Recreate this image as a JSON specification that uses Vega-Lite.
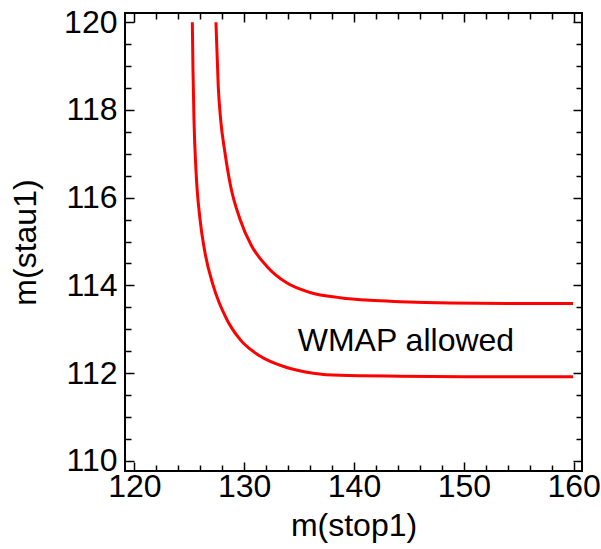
{
  "$schema": "https://vega.github.io/schema/vega-lite/v6.json",
  "width": 457,
  "height": 458,
  "autosize": {"type": "none"},
  "padding": {"left": 125, "top": 13, "right": 19, "bottom": 78},
  "background": "white",
  "config": {
    "view": {"stroke": "black", "strokeWidth": 2},
    "axis": {
      "domain": false, "grid": false,
      "labelFont": "Liberation Sans", "titleFont": "Liberation Sans",
      "labelFontSize": 32, "titleFontSize": 32,
      "labelColor": "black", "titleColor": "black",
      "tickColor": "black", "tickWidth": 1.5, "titleFontWeight": "normal"
    }
  },
  "datasets": {
    "curves": [
      {"curve": "lower", "stop": 125.28, "stau": 120.0},
      {"curve": "lower", "stop": 125.34, "stau": 118.92},
      {"curve": "lower", "stop": 125.43, "stau": 117.78},
      {"curve": "lower", "stop": 125.61, "stau": 116.64},
      {"curve": "lower", "stop": 125.98, "stau": 115.51},
      {"curve": "lower", "stop": 126.43, "stau": 114.75},
      {"curve": "lower", "stop": 127.19, "stau": 113.99},
      {"curve": "lower", "stop": 128.41, "stau": 113.23},
      {"curve": "lower", "stop": 129.62, "stau": 112.77},
      {"curve": "lower", "stop": 131.44, "stau": 112.39},
      {"curve": "lower", "stop": 133.87, "stau": 112.13},
      {"curve": "lower", "stop": 136.29, "stau": 112.0},
      {"curve": "lower", "stop": 138.72, "stau": 111.95},
      {"curve": "lower", "stop": 144.18, "stau": 111.93},
      {"curve": "lower", "stop": 150.0, "stau": 111.92},
      {"curve": "lower", "stop": 155.0, "stau": 111.92},
      {"curve": "lower", "stop": 159.95, "stau": 111.92},
      {"curve": "upper", "stop": 127.43, "stau": 120.0},
      {"curve": "upper", "stop": 127.64, "stau": 118.54},
      {"curve": "upper", "stop": 127.86, "stau": 117.78},
      {"curve": "upper", "stop": 128.25, "stau": 117.03},
      {"curve": "upper", "stop": 128.77, "stau": 116.26},
      {"curve": "upper", "stop": 129.62, "stau": 115.51},
      {"curve": "upper", "stop": 130.68, "stau": 114.9},
      {"curve": "upper", "stop": 132.05, "stau": 114.44},
      {"curve": "upper", "stop": 133.87, "stau": 114.06},
      {"curve": "upper", "stop": 135.99, "stau": 113.84},
      {"curve": "upper", "stop": 138.72, "stau": 113.72},
      {"curve": "upper", "stop": 141.45, "stau": 113.66},
      {"curve": "upper", "stop": 144.18, "stau": 113.63},
      {"curve": "upper", "stop": 148.73, "stau": 113.6},
      {"curve": "upper", "stop": 154.0, "stau": 113.59},
      {"curve": "upper", "stop": 159.95, "stau": 113.59}
    ],
    "note": [
      {"stop": 134.88, "stau": 112.51, "text": "WMAP allowed"}
    ]
  },
  "layer": [
    {
      "data": {"name": "curves"},
      "mark": {"type": "line", "color": "#ff0000", "strokeWidth": 3, "interpolate": "monotone"},
      "encoding": {
        "x": {"field": "stop", "type": "quantitative",
              "scale": {"domain": [119.15, 160.76], "nice": false, "zero": false},
              "axis": {"orient": "bottom", "values": [120, 130, 140, 150, 160], "format": "d",
                       "tickSize": -9, "labelPadding": 9, "title": "m(stop1)", "titlePadding": 8}},
        "y": {"field": "stau", "type": "quantitative",
              "scale": {"domain": [109.77, 120.21], "nice": false, "zero": false},
              "axis": {"orient": "left", "values": [110, 112, 114, 116, 118, 120], "format": "d",
                       "tickSize": -9, "labelPadding": 17, "title": "m(stau1)", "titlePadding": 21}},
        "detail": {"field": "curve"}
      }
    },
    {
      "data": {"name": "curves"},
      "mark": {"type": "line", "opacity": 0},
      "encoding": {
        "x": {"field": "stop", "type": "quantitative",
              "scale": {"domain": [119.15, 160.76], "nice": false, "zero": false},
              "axis": {"orient": "top", "values": [120, 130, 140, 150, 160], "labels": false,
                       "tickSize": -9, "title": null}},
        "y": {"field": "stau", "type": "quantitative",
              "scale": {"domain": [109.77, 120.21], "nice": false, "zero": false},
              "axis": {"orient": "right", "values": [110, 112, 114, 116, 118, 120], "labels": false,
                       "tickSize": -9, "title": null}},
        "detail": {"field": "curve"}
      }
    },
    {
      "data": {"name": "curves"},
      "mark": {"type": "line", "opacity": 0},
      "encoding": {
        "x": {"field": "stop", "type": "quantitative",
              "scale": {"domain": [119.15, 160.76], "nice": false, "zero": false},
              "axis": {"orient": "bottom", "values": [122, 124, 126, 128, 132, 134, 136, 138, 142, 144, 146, 148, 152, 154, 156, 158], "labels": false,
                       "tickSize": -6, "title": null}},
        "y": {"field": "stau", "type": "quantitative",
              "scale": {"domain": [109.77, 120.21], "nice": false, "zero": false},
              "axis": {"orient": "left", "values": [110.5, 111, 111.5, 112.5, 113, 113.5, 114.5, 115, 115.5, 116.5, 117, 117.5, 118.5, 119, 119.5], "labels": false,
                       "tickSize": -6, "title": null}},
        "detail": {"field": "curve"}
      }
    },
    {
      "data": {"name": "curves"},
      "mark": {"type": "line", "opacity": 0},
      "encoding": {
        "x": {"field": "stop", "type": "quantitative",
              "scale": {"domain": [119.15, 160.76], "nice": false, "zero": false},
              "axis": {"orient": "top", "values": [122, 124, 126, 128, 132, 134, 136, 138, 142, 144, 146, 148, 152, 154, 156, 158], "labels": false,
                       "tickSize": -6, "title": null}},
        "y": {"field": "stau", "type": "quantitative",
              "scale": {"domain": [109.77, 120.21], "nice": false, "zero": false},
              "axis": {"orient": "right", "values": [110.5, 111, 111.5, 112.5, 113, 113.5, 114.5, 115, 115.5, 116.5, 117, 117.5, 118.5, 119, 119.5], "labels": false,
                       "tickSize": -6, "title": null}},
        "detail": {"field": "curve"}
      }
    },
    {
      "data": {"name": "note"},
      "mark": {"type": "text", "align": "left", "baseline": "alphabetic", "font": "Liberation Sans", "fontSize": 32, "color": "black"},
      "encoding": {
        "x": {"field": "stop", "type": "quantitative",
              "scale": {"domain": [119.15, 160.76], "nice": false, "zero": false}, "axis": null},
        "y": {"field": "stau", "type": "quantitative",
              "scale": {"domain": [109.77, 120.21], "nice": false, "zero": false}, "axis": null},
        "text": {"field": "text"}
      }
    }
  ],
  "resolve": {"axis": {"x": "independent", "y": "independent"}}
}
